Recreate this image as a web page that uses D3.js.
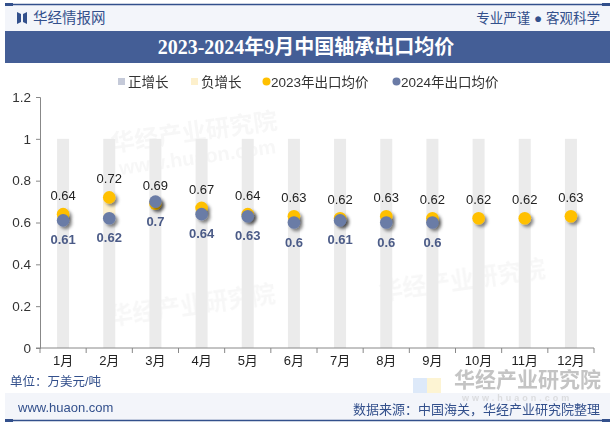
<!DOCTYPE html>
<html><head><meta charset="utf-8">
<script src="https://cdn.jsdelivr.net/npm/d3@7"></script>
<style>body{margin:0;background:#fff}svg{display:block}</style>
</head><body><svg id="c" width="615" height="427"></svg>
<script>
const months = ["1月","2月","3月","4月","5月","6月","7月","8月","9月","10月","11月","12月"];
const price2023 = [0.64,0.72,0.69,0.67,0.64,0.63,0.62,0.63,0.62,0.62,0.62,0.63];
const price2024 = [0.61,0.62,0.7,0.64,0.63,0.6,0.61,0.6,0.6,null,null,null];
const backBars = [1,1,1,1,1,1,1,1,1,1,1,1];
const yTicks = [0,0.2,0.4,0.6,0.8,1,1.2];
const legendItems = ["正增长","负增长","2023年出口均价","2024年出口均价"];

const svg = d3.select("#c");
const F = "'Liberation Sans','Noto Sans CJK SC',sans-serif";
const dark = "#33508c";

const defs = svg.append("defs");
const f = defs.append("filter").attr("id","sh").attr("x","-50%").attr("y","-50%").attr("width","200%").attr("height","200%");
f.append("feDropShadow").attr("dx",2.5).attr("dy",2.5).attr("stdDeviation",1.6).attr("flood-color","#000").attr("flood-opacity",0.45);

// header
svg.append("rect").attr("x",5).attr("y",5).attr("width",605).attr("height",26).attr("fill","#f3f5fa");
svg.append("line").attr("x1",5).attr("x2",610).attr("y1",4.5).attr("y2",4.5).attr("stroke",dark).attr("stroke-width",1.3);
svg.append("rect").attr("x",5).attr("y",3).attr("width",8).attr("height",3).attr("fill",dark);
svg.append("rect").attr("x",602).attr("y",3).attr("width",8).attr("height",3).attr("fill",dark);
svg.append("path").attr("d","M17,12 L21,14 L21,22 L17,24 Z M27,12 L23,14 L23,22 L27,24 Z").attr("fill",dark);
svg.append("text").attr("x",33).attr("y",23).attr("font-family",F).attr("font-size",14.5).attr("fill",dark).text("华经情报网");
svg.append("text").attr("x",600).attr("y",23).attr("text-anchor","end").attr("font-family",F).attr("font-size",13.5).attr("fill",dark).text("专业严谨 ● 客观科学");

// title band
svg.append("rect").attr("x",5).attr("y",31).attr("width",605).attr("height",32).attr("fill","#445e96");
svg.append("text").attr("x",306).attr("y",54).attr("text-anchor","middle")
  .attr("font-family","'Liberation Serif','Noto Sans CJK SC',serif").attr("font-weight","bold").attr("font-size",20)
  .attr("fill","#fff").text("2023-2024年9月中国轴承出口均价");

// watermarks
const wm = svg.append("g").attr("opacity",0.045).attr("font-family",F).attr("font-weight","bold").attr("fill","#555");
wm.append("text").attr("x",112).attr("y",152).attr("font-size",24).attr("transform","rotate(-8,112,152)").text("华经产业研究院");
wm.append("text").attr("x",120).attr("y",175).attr("font-size",20).attr("transform","rotate(-8,120,175)").text("www.huaon.com");
wm.append("text").attr("x",110).attr("y",325).attr("font-size",24).attr("transform","rotate(-8,110,325)").text("华经产业研究院");
wm.append("text").attr("x",380).attr("y",300).attr("font-size",24).attr("transform","rotate(-8,380,300)").text("华经产业研究院");
svg.append("rect").attr("x",413).attr("y",378).attr("width",14).attr("height",36).attr("fill","#bcd3f3").attr("opacity",0.5);
svg.append("rect").attr("x",427).attr("y",378).attr("width",14).attr("height",36).attr("fill","#fbe9a8").attr("opacity",0.5);

// scales
const x = d3.scaleBand().domain(months).range([40,594]);
const y = d3.scaleLinear().domain([0,1.2]).range([348,97]);
const bw = 12;

// legend
const lg = svg.append("g").attr("font-family",F).attr("font-size",13.5).attr("fill","#333");
const lx = [118,191,263,393];
lg.append("rect").attr("x",lx[0]).attr("y",78).attr("width",7).attr("height",7).attr("fill","#c5cad9");
lg.append("rect").attr("x",lx[1]).attr("y",78).attr("width",7).attr("height",7).attr("fill","#fdf0cc");
lg.append("circle").attr("cx",lx[2]+3.5).attr("cy",81.5).attr("r",4).attr("fill","#ffc000");
lg.append("circle").attr("cx",lx[3]+3.5).attr("cy",81.5).attr("r",4).attr("fill","#6a7ba6");
legendItems.forEach((t,i)=>{
  lg.append("text").attr("x",lx[i]+ (i<2?10:8)).attr("y",86.5).text(t);
});

// background bars
svg.append("g").selectAll("rect").data(months).join("rect")
  .attr("x",d=>x(d)+x.bandwidth()/2-bw/2).attr("width",bw)
  .attr("y",(d,i)=>y(backBars[i])).attr("height",(d,i)=>y(0)-y(backBars[i]))
  .attr("fill","#ebebeb");

// growth bars
const growth = months.map((m,i)=>price2024[i]==null?null:{m,lo:Math.min(price2023[i],price2024[i]),hi:Math.max(price2023[i],price2024[i]),pos:price2024[i]>=price2023[i]}).filter(d=>d);
svg.append("g").selectAll("rect").data(growth).join("rect")
  .attr("x",d=>x(d.m)+x.bandwidth()/2-bw/2).attr("width",bw)
  .attr("y",d=>y(d.hi)).attr("height",d=>y(d.lo)-y(d.hi))
  .attr("fill",d=>d.pos?"#c5cad9":"#fdf0cc");

// axes
const ya = svg.append("g").attr("transform","translate(40,0)")
  .call(d3.axisLeft(y).tickValues(yTicks).tickSize(4).tickFormat(d=>d3.format("~g")(d)));
ya.select(".domain").attr("stroke","#888");
ya.selectAll(".tick line").attr("stroke","#888");
ya.selectAll("text").attr("font-family",F).attr("font-size",13.5).attr("fill","#333").attr("x",-9);

const xa = svg.append("g").attr("transform","translate(0,348)")
  .call(d3.axisBottom(x).tickSize(0).tickPadding(8));
xa.select(".domain").attr("stroke","#888").attr("d","M36,0H594");
xa.selectAll("text").attr("font-family",F).attr("font-size",13).attr("fill","#222");
svg.append("g").selectAll("line").data(months.concat(["end"])).join("line")
  .attr("x1",(d,i)=>40+i*x.step()).attr("x2",(d,i)=>40+i*x.step())
  .attr("y1",348).attr("y2",353).attr("stroke","#888");

// points
svg.append("g").selectAll("circle").data(months).join("circle")
  .attr("cx",d=>x(d)+x.bandwidth()/2).attr("cy",(d,i)=>y(price2023[i])).attr("r",6.3)
  .attr("fill","#ffc000").attr("filter","url(#sh)");
const p24 = months.map((m,i)=>({m,v:price2024[i]})).filter(d=>d.v!=null);
svg.append("g").selectAll("circle").data(p24).join("circle")
  .attr("cx",d=>x(d.m)+x.bandwidth()/2).attr("cy",d=>y(d.v)).attr("r",6.3)
  .attr("fill","#6a7ba6").attr("filter","url(#sh)");

// labels
svg.append("g").selectAll("text").data(months).join("text")
  .attr("x",d=>x(d)+x.bandwidth()/2).attr("y",(d,i)=>y(price2023[i])-14)
  .attr("text-anchor","middle").attr("font-family",F).attr("font-size",13).attr("fill","#222")
  .text((d,i)=>price2023[i]);
svg.append("g").selectAll("text").data(p24).join("text")
  .attr("x",d=>x(d.m)+x.bandwidth()/2).attr("y",d=>y(d.v)+24)
  .attr("text-anchor","middle").attr("font-family",F).attr("font-weight","bold").attr("font-size",13).attr("fill","#4b5b87")
  .text(d=>d.v);

// unit
svg.append("text").attr("x",10).attr("y",386).attr("font-family",F).attr("font-size",12.5).attr("fill",dark).text("单位：万美元/吨");

// footer
svg.append("rect").attr("x",5).attr("y",393).attr("width",605).attr("height",27).attr("fill","#f3f5fa");
svg.append("line").attr("x1",5).attr("x2",610).attr("y1",420.5).attr("y2",420.5).attr("stroke",dark).attr("stroke-width",1.3);
svg.append("rect").attr("x",5).attr("y",419).attr("width",8).attr("height",3).attr("fill",dark);
svg.append("rect").attr("x",602).attr("y",419).attr("width",8).attr("height",3).attr("fill",dark);

// bottom-right watermark
svg.append("text").attr("x",454).attr("y",387).attr("font-family",F).attr("font-weight","bold").attr("font-size",21).attr("fill","#c4c4c4").text("华经产业研究院");
svg.append("text").attr("x",462).attr("y",401).attr("font-family",F).attr("font-weight","bold").attr("font-size",9).attr("letter-spacing",3).attr("fill","#c4c4c4").attr("opacity",0.5).text("www.huaon.com");

svg.append("text").attr("x",18).attr("y",412).attr("font-family",F).attr("font-size",13).attr("fill",dark).text("www.huaon.com");
svg.append("text").attr("x",600).attr("y",414).attr("text-anchor","end").attr("font-family",F).attr("font-size",13).attr("fill",dark).text("数据来源：中国海关，华经产业研究院整理");
</script></body></html>
